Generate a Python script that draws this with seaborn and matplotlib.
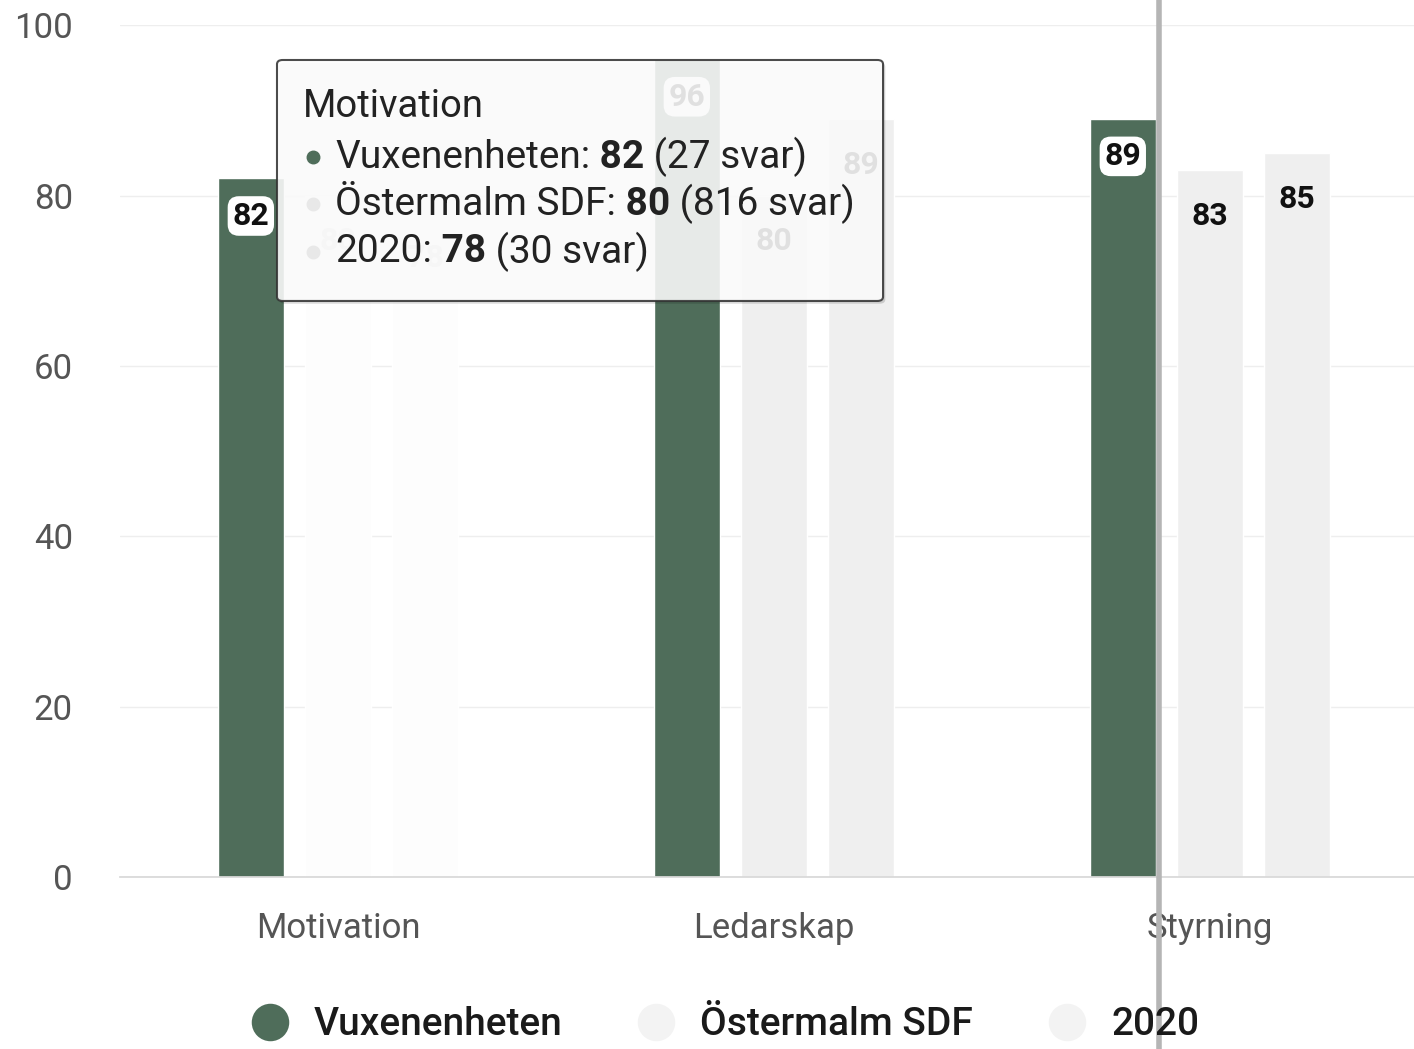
import numpy as np
import pandas as pd
import matplotlib
matplotlib.use("Agg")
import matplotlib.pyplot as plt
import seaborn as sns
from matplotlib.patches import FancyBboxPatch
from matplotlib.lines import Line2D

categories = ["Motivation", "Ledarskap", "Styrning"]
series = ["Vuxenenheten", "Östermalm SDF", "2020"]
vuxen = [82, 96, 89]
ostermalm = [80, 80, 83]
year2020 = [78, 89, 85]
svar = [27, 816, 30]
yticks = [0, 20, 40, 60, 80, 100]

dark = "#4f6d5a"
light = "#efefef"
faded = "#fdfdfd"

df = pd.DataFrame({
    "kategori": categories * 3,
    "serie": np.repeat(series, 3),
    "varde": vuxen + ostermalm + year2020,
})

sns.set_theme(style="white")
plt.rcParams['font.family'] = ['Roboto', 'DejaVu Sans']

fig = plt.figure(figsize=(14.14, 10.49), dpi=100)
ax = fig.add_axes([0.0849, 0.164, 0.925, 0.812])

sns.barplot(data=df, x="kategori", y="varde", hue="serie", order=categories,
            hue_order=series, palette=[dark, light, light], width=0.6, gap=0.245,
            saturation=1, legend=False, ax=ax)

# hovered state: the other series of the first category are faded out
for i in (1, 2):
    ax.containers[i][0].set_facecolor(faded)

for i, cont in enumerate(ax.containers):
    for j, p in enumerate(cont):
        x = p.get_x() + p.get_width() / 2
        h = p.get_height()
        if i == 0:
            ax.annotate(f"{h:.0f}", (x, h), xytext=(0, -27), textcoords="offset points",
                        ha="center", va="center", fontsize=23, fontweight="bold", color="#111",
                        bbox=dict(boxstyle="round,pad=0.15,rounding_size=0.35", fc="white", ec="none"))
        else:
            ax.annotate(f"{h:.0f}", (x, h), xytext=(0, -33), textcoords="offset points",
                        ha="center", va="center", fontsize=23, fontweight="bold",
                        color="#d8d8d8" if j == 0 else "#111")

ax.set_ylim(0, 100)
ax.set_xlim(-0.5, 2.5)
ax.set_yticks(yticks)
ax.set_xlabel("")
ax.set_ylabel("")
ax.yaxis.grid(True, color="#eeeeee", lw=1)
ax.set_axisbelow(True)
for s in ["left", "right", "top"]:
    ax.spines[s].set_visible(False)
ax.spines["bottom"].set_color("#d8d8d8")
ax.tick_params(axis="y", length=0, pad=34, labelsize=25, labelcolor="#555555")
ax.tick_params(axis="x", which="major", length=0, pad=25, labelsize=25, labelcolor="#555555")
ax.set_xticks([-0.5, 0.5, 1.5, 2.5], minor=True)
ax.tick_params(axis="x", which="minor", length=18, color="#dddddd", width=1)

# tooltip
shadow = FancyBboxPatch((0.1975, 0.7105), 0.4286, 0.2297, transform=fig.transFigure,
                        boxstyle="round,pad=0,rounding_size=0.004", fc="#000000", ec="none", alpha=0.15)
fig.add_artist(shadow)
tip = FancyBboxPatch((0.1959, 0.7131), 0.4286, 0.2297, transform=fig.transFigure,
                     boxstyle="round,pad=0,rounding_size=0.004", fc="white", ec="#333333",
                     lw=1.5, alpha=0.88)
fig.add_artist(tip)

renderer = fig.canvas.get_renderer()


def rich_line(x, y, parts, size=28):
    for txt, weight in parts:
        t = fig.text(x, y, txt, fontsize=size, fontweight=weight, color="#222222",
                     ha="left", va="center")
        bb = t.get_window_extent(renderer)
        x += bb.width / fig.bbox.width


fig.text(0.2143, 0.898, categories[0], fontsize=27.5, color="#222222", ha="left", va="center")
vals = [vuxen[0], ostermalm[0], year2020[0]]
ys = [0.8503, 0.8055, 0.7598]
bullets = [dark, "#e8e8e8", "#e8e8e8"]
for name, v, n, y, bc in zip(series, vals, svar, ys, bullets):
    fig.add_artist(Line2D([0.2214], [y], marker="o", ms=9, color=bc, ls="",
                          transform=fig.transFigure))
    rich_line(0.2369, y, [(f"{name}:", "normal"), (f" {v}", "bold"), (f" ({n} svar)", "normal")])

# legend
handles = [Line2D([], [], marker="o", ls="", ms=27, color=c, mec="none")
           for c in [dark, "#f3f3f3", "#f3f3f3"]]
fig.legend(handles, series, loc="center", bbox_to_anchor=(0.5128, 0.0229), ncol=3,
           frameon=False, handlelength=0.95, handletextpad=0.65, columnspacing=1.95,
           prop=dict(family=["Roboto", "DejaVu Sans"], weight="medium", size=28))
for t in fig.legends[0].get_texts():
    t.set_color("#1a1a1a")

# scanner artefact line
fig.add_artist(Line2D([0.8197, 0.8197], [0, 1], transform=fig.transFigure, color="#b5b5b5", lw=4))

fig.savefig("out.png", dpi=100)
